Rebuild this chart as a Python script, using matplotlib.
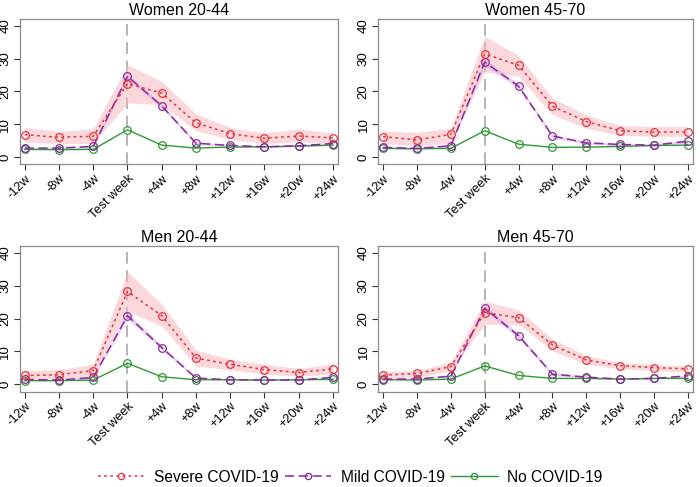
import numpy as np
import matplotlib.pyplot as plt

plt.rcParams['font.family'] = ['Liberation Sans', 'DejaVu Sans']

weeks = ['-12w', '-8w', '-4w', 'Test week', '+4w', '+8w', '+12w', '+16w', '+20w', '+24w']
titles = ['Women 20-44', 'Women 45-70', 'Men 20-44', 'Men 45-70']

# severe COVID-19: estimate, lower CI, upper CI
severe = [
    [6.8, 6.0, 6.3, 22.4, 19.5, 10.4, 7.1, 5.7, 6.4, 5.8],
    [6.2, 5.2, 6.9, 31.5, 28.0, 15.5, 10.8, 8.0, 7.6, 7.6],
    [2.7, 2.9, 4.2, 28.3, 20.9, 8.0, 6.1, 4.5, 3.6, 4.7],
    [2.8, 3.3, 5.4, 21.8, 20.3, 12.0, 7.4, 5.7, 5.1, 4.7],
]
severe_lo = [
    [4.5, 4.1, 4.1, 16.5, 15.9, 8.0, 5.3, 4.1, 4.6, 4.3],
    [4.1, 3.4, 4.2, 26.0, 24.6, 12.9, 8.8, 6.6, 6.3, 6.3],
    [1.6, 1.8, 2.5, 22.3, 17.8, 5.6, 4.4, 3.1, 2.5, 3.1],
    [1.8, 2.1, 4.1, 18.3, 18.3, 10.2, 6.1, 4.7, 4.2, 3.8],
]
severe_hi = [
    [9.0, 7.8, 8.6, 28.1, 23.1, 13.1, 9.0, 7.3, 8.5, 7.3],
    [8.0, 7.5, 8.8, 36.9, 31.0, 18.0, 12.8, 9.6, 9.3, 9.3],
    [4.1, 4.5, 6.1, 34.3, 24.4, 10.5, 7.6, 6.1, 4.8, 6.2],
    [3.9, 4.2, 6.7, 25.3, 22.7, 13.8, 8.7, 6.6, 6.0, 5.6],
]

# mild COVID-19
mild = [
    [2.7, 2.7, 3.2, 24.6, 15.6, 4.2, 3.5, 3.1, 3.4, 4.1],
    [2.9, 2.6, 3.4, 29.0, 21.6, 6.4, 4.3, 3.8, 3.6, 4.8],
    [1.5, 1.3, 2.1, 20.9, 11.2, 1.9, 1.4, 1.3, 1.3, 2.1],
    [1.6, 1.6, 2.5, 23.2, 14.8, 3.1, 2.2, 1.6, 1.8, 2.6],
]
mild_lo = [
    [2.4, 2.4, 2.8, 23.8, 15.0, 3.8, 3.2, 2.8, 3.1, 3.7],
    [2.6, 2.3, 3.0, 28.0, 20.9, 5.9, 3.9, 3.4, 3.2, 4.3],
    [1.3, 1.1, 1.8, 20.0, 10.6, 1.6, 1.2, 1.1, 1.1, 1.8],
    [1.4, 1.4, 2.2, 22.3, 14.1, 2.7, 1.9, 1.4, 1.6, 2.3],
]
mild_hi = [
    [3.0, 3.0, 3.6, 25.4, 16.2, 4.6, 3.8, 3.4, 3.7, 4.5],
    [3.2, 2.9, 3.8, 30.0, 22.3, 6.9, 4.7, 4.2, 4.0, 5.3],
    [1.7, 1.5, 2.4, 21.8, 11.8, 2.2, 1.6, 1.5, 1.5, 2.4],
    [1.8, 1.8, 2.8, 24.1, 15.5, 3.5, 2.5, 1.8, 2.0, 2.9],
]

# no COVID-19
none = [
    [2.3, 2.2, 2.3, 8.3, 3.6, 2.7, 3.0, 3.1, 3.3, 3.6],
    [2.6, 2.5, 2.6, 8.0, 3.9, 2.9, 3.0, 3.2, 3.5, 3.6],
    [1.1, 1.1, 1.3, 6.4, 2.3, 1.4, 1.4, 1.3, 1.4, 1.5],
    [1.4, 1.3, 1.6, 5.6, 2.7, 1.8, 1.8, 1.6, 1.8, 1.8],
]

red = '#e8323c'
purple = '#8a2a9e'
green = '#2f9a35'

positions = [
    [0.028, 0.663, 0.455, 0.297],
    [0.540, 0.663, 0.450, 0.297],
    [0.028, 0.196, 0.455, 0.298],
    [0.540, 0.196, 0.450, 0.298],
]

fig = plt.figure(figsize=(7, 4.87), dpi=100)
x = np.arange(len(weeks))
mk = dict(marker='o', markersize=5.5, markerfacecolor='none', markeredgewidth=0.9)

for i in range(4):
    ax = fig.add_axes(positions[i])
    ax.axvline(3, color='#a8a8a8', lw=1.2, dashes=(7, 4), zorder=1)
    ax.fill_between(x, severe_lo[i], severe_hi[i], color='#f7b8c0', alpha=0.55, lw=0, zorder=2)
    ax.fill_between(x, mild_lo[i], mild_hi[i], color='#d8a0e0', alpha=0.5, lw=0, zorder=2)
    ax.plot(x, none[i], color=green, lw=1.0, markeredgecolor=green, zorder=3, **mk)
    ax.plot(x, mild[i], color=purple, lw=1.1, dashes=(6, 3), markeredgecolor=purple, zorder=4, **mk)
    ax.plot(x, severe[i], color=red, lw=1.1, dashes=(1.8, 2.2), markeredgecolor=red, zorder=5, **mk)

    ax.set_xlim(-0.15, 9.15)
    ax.set_ylim(-2.2, 42)
    ax.set_yticks([0, 10, 20, 30, 40])
    ax.set_yticklabels(['0', '10', '20', '30', '40'], rotation=90, va='center', fontsize=9.5)
    ax.set_xticks(x)
    ax.set_xticklabels(weeks, rotation=45, ha='right', rotation_mode='anchor', fontsize=9.2)
    ax.tick_params(length=4, width=0.8, color='#333333', pad=2)
    for s in ax.spines.values():
        s.set_color('#8c8c8c')
        s.set_linewidth(0.9)
    ax.set_title(titles[i], fontsize=11.5, pad=3)

h1, = plt.plot([], [], color=red, lw=1.1, dashes=(1.8, 2.2), markeredgecolor=red,
               marker='o', markersize=4.5, markerfacecolor='none', markeredgewidth=0.9)
h2, = plt.plot([], [], color=purple, lw=1.1, dashes=(6, 3), markeredgecolor=purple,
               marker='o', markersize=4.5, markerfacecolor='none', markeredgewidth=0.9)
h3, = plt.plot([], [], color=green, lw=1.0, markeredgecolor=green,
               marker='o', markersize=4.5, markerfacecolor='none', markeredgewidth=0.9)
fig.legend([h1, h2, h3], ['Severe COVID-19', 'Mild COVID-19', 'No COVID-19'],
           loc='center', bbox_to_anchor=(0.5, 0.02), ncol=3, frameon=False,
           fontsize=11.2, handlelength=3.0, columnspacing=0.4, handletextpad=0.6)

fig.savefig('out.png', dpi=100)
